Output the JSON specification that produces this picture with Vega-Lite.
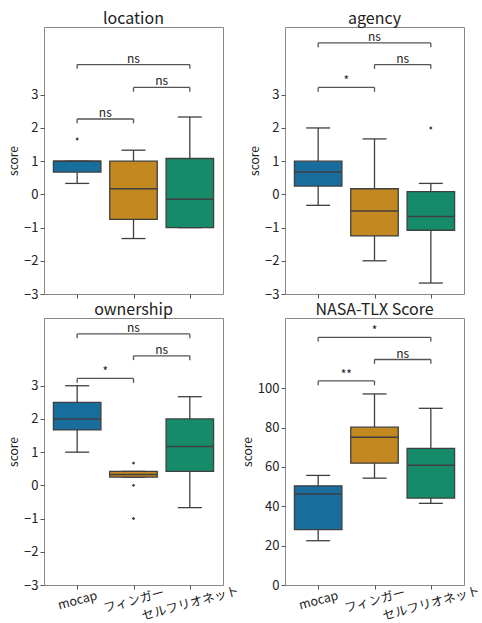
{
  "$schema": "https://vega.github.io/schema/vega-lite/v6.json",
  "padding": {"left": 7, "top": 10, "right": 4, "bottom": 4},
  "bounds": "flush",
  "columns": 2,
  "spacing": {"row": 24, "column": 62},
  "config": {
    "font": "Noto Sans CJK JP",
    "view": {"stroke": "#888888", "strokeWidth": 1},
    "axis": {"labelFontSize": 13, "titleFontSize": 12, "labelColor": "#222222", "titleColor": "#222222", "tickColor": "#555555", "tickSize": 4, "grid": false, "domain": false, "labelPadding": 2, "titleFontWeight": "normal", "titlePadding": 3, "labelOverlap": false, "labelFlush": false},
    "title": {"fontSize": 16, "fontWeight": "normal", "offset": 0.5, "color": "#222222"}
  },
  "datasets": {
    "boxes": [
      {"metric": "location", "group": "mocap", "pos": 0, "lo": 0.33, "q1": 0.67, "median": 1.0, "q3": 1.0, "hi": 1.0},
      {"metric": "location", "group": "フィンガー", "pos": 1, "lo": -1.33, "q1": -0.75, "median": 0.17, "q3": 1.0, "hi": 1.33},
      {"metric": "location", "group": "セルフリオネット", "pos": 2, "lo": -1.0, "q1": -1.0, "median": -0.15, "q3": 1.08, "hi": 2.33},
      {"metric": "agency", "group": "mocap", "pos": 0, "lo": -0.33, "q1": 0.25, "median": 0.67, "q3": 1.0, "hi": 2.0},
      {"metric": "agency", "group": "フィンガー", "pos": 1, "lo": -2.0, "q1": -1.25, "median": -0.5, "q3": 0.17, "hi": 1.67},
      {"metric": "agency", "group": "セルフリオネット", "pos": 2, "lo": -2.67, "q1": -1.08, "median": -0.67, "q3": 0.08, "hi": 0.33},
      {"metric": "ownership", "group": "mocap", "pos": 0, "lo": 1.0, "q1": 1.67, "median": 2.0, "q3": 2.5, "hi": 3.0},
      {"metric": "ownership", "group": "フィンガー", "pos": 1, "lo": 0.25, "q1": 0.25, "median": 0.33, "q3": 0.42, "hi": 0.42},
      {"metric": "ownership", "group": "セルフリオネット", "pos": 2, "lo": -0.67, "q1": 0.42, "median": 1.17, "q3": 2.0, "hi": 2.67},
      {"metric": "NASA-TLX Score", "group": "mocap", "pos": 0, "lo": 22.5, "q1": 28.1, "median": 46.2, "q3": 50.4, "hi": 55.7},
      {"metric": "NASA-TLX Score", "group": "フィンガー", "pos": 1, "lo": 54.3, "q1": 61.9, "median": 75.1, "q3": 80.2, "hi": 97.1},
      {"metric": "NASA-TLX Score", "group": "セルフリオネット", "pos": 2, "lo": 41.5, "q1": 44.2, "median": 60.9, "q3": 69.4, "hi": 89.8}
    ],
    "outliers": [
      {"metric": "location", "group": "mocap", "pos": 0, "value": 1.67},
      {"metric": "agency", "group": "セルフリオネット", "pos": 2, "value": 2.0},
      {"metric": "ownership", "group": "フィンガー", "pos": 1, "value": 0.67},
      {"metric": "ownership", "group": "フィンガー", "pos": 1, "value": 0.0},
      {"metric": "ownership", "group": "フィンガー", "pos": 1, "value": -1.0}
    ],
    "brackets": [
      {"metric": "location", "pos1": 0, "pos2": 1, "mid": 0.5, "y": 2.27, "yleg": 2.14, "label": "ns"},
      {"metric": "location", "pos1": 1, "pos2": 2, "mid": 1.5, "y": 3.22, "yleg": 3.09, "label": "ns"},
      {"metric": "location", "pos1": 0, "pos2": 2, "mid": 1.0, "y": 3.91, "yleg": 3.78, "label": "ns"},
      {"metric": "agency", "pos1": 0, "pos2": 1, "mid": 0.5, "y": 3.22, "yleg": 3.09, "label": "*"},
      {"metric": "agency", "pos1": 1, "pos2": 2, "mid": 1.5, "y": 3.91, "yleg": 3.78, "label": "ns"},
      {"metric": "agency", "pos1": 0, "pos2": 2, "mid": 1.0, "y": 4.56, "yleg": 4.43, "label": "ns"},
      {"metric": "ownership", "pos1": 0, "pos2": 1, "mid": 0.5, "y": 3.22, "yleg": 3.09, "label": "*"},
      {"metric": "ownership", "pos1": 1, "pos2": 2, "mid": 1.5, "y": 3.9, "yleg": 3.77, "label": "ns"},
      {"metric": "ownership", "pos1": 0, "pos2": 2, "mid": 1.0, "y": 4.56, "yleg": 4.43, "label": "ns"},
      {"metric": "NASA-TLX Score", "pos1": 0, "pos2": 1, "mid": 0.5, "y": 103.7, "yleg": 101.5, "label": "**"},
      {"metric": "NASA-TLX Score", "pos1": 1, "pos2": 2, "mid": 1.5, "y": 114.6, "yleg": 112.4, "label": "ns"},
      {"metric": "NASA-TLX Score", "pos1": 0, "pos2": 2, "mid": 1.0, "y": 125.9, "yleg": 123.7, "label": "*"}
    ]
  },
  "concat": [
    {
      "width": 179, "height": 267, "title": "location",
      "data": {"name": "boxes"},
      "transform": [{"filter": {"field": "metric", "equal": "location"}}],
      "layer": [
        {"mark": {"type": "rule", "color": "#3f3f3f", "strokeWidth": 1.3},
         "encoding": {
           "x": {"field": "pos", "type": "quantitative", "title": null, "scale": {"domain": [-0.5, 2.5], "nice": false, "zero": false}, "axis": {"values": [0, 1, 2], "labels": false}},
           "y": {"field": "lo", "type": "quantitative", "title": "score", "scale": {"domain": [-3, 5.04], "nice": false, "zero": false}, "axis": {"values": [-3, -2, -1, 0, 1, 2, 3]}},
           "y2": {"field": "q1"}}},
        {"mark": {"type": "rule", "color": "#3f3f3f", "strokeWidth": 1.3},
         "encoding": {
           "x": {"field": "pos", "type": "quantitative", "title": null, "scale": {"domain": [-0.5, 2.5], "nice": false, "zero": false}},
           "y": {"field": "q3", "type": "quantitative", "title": "score", "scale": {"domain": [-3, 5.04], "nice": false, "zero": false}},
           "y2": {"field": "hi"}}},
        {"mark": {"type": "tick", "orient": "horizontal", "size": 24, "thickness": 1.3, "color": "#3f3f3f", "opacity": 1},
         "encoding": {
           "x": {"field": "pos", "type": "quantitative", "title": null, "scale": {"domain": [-0.5, 2.5], "nice": false, "zero": false}},
           "y": {"field": "lo", "type": "quantitative", "title": "score", "scale": {"domain": [-3, 5.04], "nice": false, "zero": false}}}},
        {"mark": {"type": "tick", "orient": "horizontal", "size": 24, "thickness": 1.3, "color": "#3f3f3f", "opacity": 1},
         "encoding": {
           "x": {"field": "pos", "type": "quantitative", "title": null, "scale": {"domain": [-0.5, 2.5], "nice": false, "zero": false}},
           "y": {"field": "hi", "type": "quantitative", "title": "score", "scale": {"domain": [-3, 5.04], "nice": false, "zero": false}}}},
        {"mark": {"type": "bar", "orient": "vertical", "width": 47.5, "stroke": "#3f3f3f", "strokeWidth": 1.3},
         "encoding": {
           "x": {"field": "pos", "type": "quantitative", "title": null, "scale": {"domain": [-0.5, 2.5], "nice": false, "zero": false}},
           "y": {"field": "q1", "type": "quantitative", "title": "score", "scale": {"domain": [-3, 5.04], "nice": false, "zero": false}},
           "y2": {"field": "q3"},
           "color": {"field": "group", "type": "nominal", "scale": {"domain": ["mocap", "フィンガー", "セルフリオネット"], "range": ["#176d9c", "#c38820", "#168b6a"]}, "legend": null}}},
        {"mark": {"type": "tick", "orient": "horizontal", "size": 47.5, "thickness": 1.5, "color": "#3f3f3f", "opacity": 1},
         "encoding": {
           "x": {"field": "pos", "type": "quantitative", "title": null, "scale": {"domain": [-0.5, 2.5], "nice": false, "zero": false}},
           "y": {"field": "median", "type": "quantitative", "title": "score", "scale": {"domain": [-3, 5.04], "nice": false, "zero": false}}}},
        {"data": {"name": "outliers"}, "transform": [{"filter": {"field": "metric", "equal": "location"}}],
         "mark": {"type": "point", "shape": "diamond", "filled": true, "size": 12, "color": "#3f3f3f", "opacity": 1},
         "encoding": {
           "x": {"field": "pos", "type": "quantitative", "title": null, "scale": {"domain": [-0.5, 2.5], "nice": false, "zero": false}},
           "y": {"field": "value", "type": "quantitative", "title": "score", "scale": {"domain": [-3, 5.04], "nice": false, "zero": false}}}},
        {"data": {"name": "brackets"}, "transform": [{"filter": {"field": "metric", "equal": "location"}}],
         "mark": {"type": "rule", "color": "#555555", "strokeWidth": 1.3},
         "encoding": {
           "x": {"field": "pos1", "type": "quantitative", "title": null, "scale": {"domain": [-0.5, 2.5], "nice": false, "zero": false}},
           "x2": {"field": "pos2"},
           "y": {"field": "y", "type": "quantitative", "title": "score", "scale": {"domain": [-3, 5.04], "nice": false, "zero": false}}}},
        {"data": {"name": "brackets"}, "transform": [{"filter": {"field": "metric", "equal": "location"}}],
         "mark": {"type": "rule", "color": "#555555", "strokeWidth": 1.3},
         "encoding": {
           "x": {"field": "pos1", "type": "quantitative", "title": null, "scale": {"domain": [-0.5, 2.5], "nice": false, "zero": false}},
           "y": {"field": "y", "type": "quantitative", "title": "score", "scale": {"domain": [-3, 5.04], "nice": false, "zero": false}},
           "y2": {"field": "yleg"}}},
        {"data": {"name": "brackets"}, "transform": [{"filter": {"field": "metric", "equal": "location"}}],
         "mark": {"type": "rule", "color": "#555555", "strokeWidth": 1.3},
         "encoding": {
           "x": {"field": "pos2", "type": "quantitative", "title": null, "scale": {"domain": [-0.5, 2.5], "nice": false, "zero": false}},
           "y": {"field": "y", "type": "quantitative", "title": "score", "scale": {"domain": [-3, 5.04], "nice": false, "zero": false}},
           "y2": {"field": "yleg"}}},
        {"data": {"name": "brackets"}, "transform": [{"filter": {"field": "metric", "equal": "location"}}],
         "mark": {"type": "text", "baseline": "alphabetic", "dy": -2, "fontSize": 12, "color": "#222222"},
         "encoding": {
           "x": {"field": "mid", "type": "quantitative", "title": null, "scale": {"domain": [-0.5, 2.5], "nice": false, "zero": false}},
           "y": {"field": "y", "type": "quantitative", "title": "score", "scale": {"domain": [-3, 5.04], "nice": false, "zero": false}},
           "text": {"field": "label"}}}
      ]
    },
    {
      "width": 179, "height": 267, "title": "agency",
      "data": {"name": "boxes"},
      "transform": [{"filter": {"field": "metric", "equal": "agency"}}],
      "layer": [
        {"mark": {"type": "rule", "color": "#3f3f3f", "strokeWidth": 1.3},
         "encoding": {
           "x": {"field": "pos", "type": "quantitative", "title": null, "scale": {"domain": [-0.5, 2.5], "nice": false, "zero": false}, "axis": {"values": [0, 1, 2], "labels": false}},
           "y": {"field": "lo", "type": "quantitative", "title": "score", "scale": {"domain": [-3, 5.04], "nice": false, "zero": false}, "axis": {"values": [-3, -2, -1, 0, 1, 2, 3]}},
           "y2": {"field": "q1"}}},
        {"mark": {"type": "rule", "color": "#3f3f3f", "strokeWidth": 1.3},
         "encoding": {
           "x": {"field": "pos", "type": "quantitative", "title": null, "scale": {"domain": [-0.5, 2.5], "nice": false, "zero": false}},
           "y": {"field": "q3", "type": "quantitative", "title": "score", "scale": {"domain": [-3, 5.04], "nice": false, "zero": false}},
           "y2": {"field": "hi"}}},
        {"mark": {"type": "tick", "orient": "horizontal", "size": 24, "thickness": 1.3, "color": "#3f3f3f", "opacity": 1},
         "encoding": {
           "x": {"field": "pos", "type": "quantitative", "title": null, "scale": {"domain": [-0.5, 2.5], "nice": false, "zero": false}},
           "y": {"field": "lo", "type": "quantitative", "title": "score", "scale": {"domain": [-3, 5.04], "nice": false, "zero": false}}}},
        {"mark": {"type": "tick", "orient": "horizontal", "size": 24, "thickness": 1.3, "color": "#3f3f3f", "opacity": 1},
         "encoding": {
           "x": {"field": "pos", "type": "quantitative", "title": null, "scale": {"domain": [-0.5, 2.5], "nice": false, "zero": false}},
           "y": {"field": "hi", "type": "quantitative", "title": "score", "scale": {"domain": [-3, 5.04], "nice": false, "zero": false}}}},
        {"mark": {"type": "bar", "orient": "vertical", "width": 47.5, "stroke": "#3f3f3f", "strokeWidth": 1.3},
         "encoding": {
           "x": {"field": "pos", "type": "quantitative", "title": null, "scale": {"domain": [-0.5, 2.5], "nice": false, "zero": false}},
           "y": {"field": "q1", "type": "quantitative", "title": "score", "scale": {"domain": [-3, 5.04], "nice": false, "zero": false}},
           "y2": {"field": "q3"},
           "color": {"field": "group", "type": "nominal", "scale": {"domain": ["mocap", "フィンガー", "セルフリオネット"], "range": ["#176d9c", "#c38820", "#168b6a"]}, "legend": null}}},
        {"mark": {"type": "tick", "orient": "horizontal", "size": 47.5, "thickness": 1.5, "color": "#3f3f3f", "opacity": 1},
         "encoding": {
           "x": {"field": "pos", "type": "quantitative", "title": null, "scale": {"domain": [-0.5, 2.5], "nice": false, "zero": false}},
           "y": {"field": "median", "type": "quantitative", "title": "score", "scale": {"domain": [-3, 5.04], "nice": false, "zero": false}}}},
        {"data": {"name": "outliers"}, "transform": [{"filter": {"field": "metric", "equal": "agency"}}],
         "mark": {"type": "point", "shape": "diamond", "filled": true, "size": 12, "color": "#3f3f3f", "opacity": 1},
         "encoding": {
           "x": {"field": "pos", "type": "quantitative", "title": null, "scale": {"domain": [-0.5, 2.5], "nice": false, "zero": false}},
           "y": {"field": "value", "type": "quantitative", "title": "score", "scale": {"domain": [-3, 5.04], "nice": false, "zero": false}}}},
        {"data": {"name": "brackets"}, "transform": [{"filter": {"field": "metric", "equal": "agency"}}],
         "mark": {"type": "rule", "color": "#555555", "strokeWidth": 1.3},
         "encoding": {
           "x": {"field": "pos1", "type": "quantitative", "title": null, "scale": {"domain": [-0.5, 2.5], "nice": false, "zero": false}},
           "x2": {"field": "pos2"},
           "y": {"field": "y", "type": "quantitative", "title": "score", "scale": {"domain": [-3, 5.04], "nice": false, "zero": false}}}},
        {"data": {"name": "brackets"}, "transform": [{"filter": {"field": "metric", "equal": "agency"}}],
         "mark": {"type": "rule", "color": "#555555", "strokeWidth": 1.3},
         "encoding": {
           "x": {"field": "pos1", "type": "quantitative", "title": null, "scale": {"domain": [-0.5, 2.5], "nice": false, "zero": false}},
           "y": {"field": "y", "type": "quantitative", "title": "score", "scale": {"domain": [-3, 5.04], "nice": false, "zero": false}},
           "y2": {"field": "yleg"}}},
        {"data": {"name": "brackets"}, "transform": [{"filter": {"field": "metric", "equal": "agency"}}],
         "mark": {"type": "rule", "color": "#555555", "strokeWidth": 1.3},
         "encoding": {
           "x": {"field": "pos2", "type": "quantitative", "title": null, "scale": {"domain": [-0.5, 2.5], "nice": false, "zero": false}},
           "y": {"field": "y", "type": "quantitative", "title": "score", "scale": {"domain": [-3, 5.04], "nice": false, "zero": false}},
           "y2": {"field": "yleg"}}},
        {"data": {"name": "brackets"}, "transform": [{"filter": {"field": "metric", "equal": "agency"}}],
         "mark": {"type": "text", "baseline": "alphabetic", "dy": -2, "fontSize": 12, "color": "#222222"},
         "encoding": {
           "x": {"field": "mid", "type": "quantitative", "title": null, "scale": {"domain": [-0.5, 2.5], "nice": false, "zero": false}},
           "y": {"field": "y", "type": "quantitative", "title": "score", "scale": {"domain": [-3, 5.04], "nice": false, "zero": false}},
           "text": {"field": "label"}}}
      ]
    },
    {
      "width": 179, "height": 267, "title": "ownership",
      "data": {"name": "boxes"},
      "transform": [{"filter": {"field": "metric", "equal": "ownership"}}],
      "layer": [
        {"mark": {"type": "rule", "color": "#3f3f3f", "strokeWidth": 1.3},
         "encoding": {
           "x": {"field": "pos", "type": "quantitative", "title": null, "scale": {"domain": [-0.5, 2.5], "nice": false, "zero": false}, "axis": {"values": [0, 1, 2], "labelExpr": "datum.value == 0 ? 'mocap' : datum.value == 1 ? 'フィンガー' : 'セルフリオネット'", "labelAngle": -15, "labelAlign": "center", "labelBaseline": "middle", "labelFontSize": 12.5, "labelPadding": {"expr": "datum.value == 2 ? 14 : 11"}}},
           "y": {"field": "lo", "type": "quantitative", "title": "score", "scale": {"domain": [-3, 5.04], "nice": false, "zero": false}, "axis": {"values": [-3, -2, -1, 0, 1, 2, 3]}},
           "y2": {"field": "q1"}}},
        {"mark": {"type": "rule", "color": "#3f3f3f", "strokeWidth": 1.3},
         "encoding": {
           "x": {"field": "pos", "type": "quantitative", "title": null, "scale": {"domain": [-0.5, 2.5], "nice": false, "zero": false}},
           "y": {"field": "q3", "type": "quantitative", "title": "score", "scale": {"domain": [-3, 5.04], "nice": false, "zero": false}},
           "y2": {"field": "hi"}}},
        {"mark": {"type": "tick", "orient": "horizontal", "size": 24, "thickness": 1.3, "color": "#3f3f3f", "opacity": 1},
         "encoding": {
           "x": {"field": "pos", "type": "quantitative", "title": null, "scale": {"domain": [-0.5, 2.5], "nice": false, "zero": false}},
           "y": {"field": "lo", "type": "quantitative", "title": "score", "scale": {"domain": [-3, 5.04], "nice": false, "zero": false}}}},
        {"mark": {"type": "tick", "orient": "horizontal", "size": 24, "thickness": 1.3, "color": "#3f3f3f", "opacity": 1},
         "encoding": {
           "x": {"field": "pos", "type": "quantitative", "title": null, "scale": {"domain": [-0.5, 2.5], "nice": false, "zero": false}},
           "y": {"field": "hi", "type": "quantitative", "title": "score", "scale": {"domain": [-3, 5.04], "nice": false, "zero": false}}}},
        {"mark": {"type": "bar", "orient": "vertical", "width": 47.5, "stroke": "#3f3f3f", "strokeWidth": 1.3},
         "encoding": {
           "x": {"field": "pos", "type": "quantitative", "title": null, "scale": {"domain": [-0.5, 2.5], "nice": false, "zero": false}},
           "y": {"field": "q1", "type": "quantitative", "title": "score", "scale": {"domain": [-3, 5.04], "nice": false, "zero": false}},
           "y2": {"field": "q3"},
           "color": {"field": "group", "type": "nominal", "scale": {"domain": ["mocap", "フィンガー", "セルフリオネット"], "range": ["#176d9c", "#c38820", "#168b6a"]}, "legend": null}}},
        {"mark": {"type": "tick", "orient": "horizontal", "size": 47.5, "thickness": 1.5, "color": "#3f3f3f", "opacity": 1},
         "encoding": {
           "x": {"field": "pos", "type": "quantitative", "title": null, "scale": {"domain": [-0.5, 2.5], "nice": false, "zero": false}},
           "y": {"field": "median", "type": "quantitative", "title": "score", "scale": {"domain": [-3, 5.04], "nice": false, "zero": false}}}},
        {"data": {"name": "outliers"}, "transform": [{"filter": {"field": "metric", "equal": "ownership"}}],
         "mark": {"type": "point", "shape": "diamond", "filled": true, "size": 12, "color": "#3f3f3f", "opacity": 1},
         "encoding": {
           "x": {"field": "pos", "type": "quantitative", "title": null, "scale": {"domain": [-0.5, 2.5], "nice": false, "zero": false}},
           "y": {"field": "value", "type": "quantitative", "title": "score", "scale": {"domain": [-3, 5.04], "nice": false, "zero": false}}}},
        {"data": {"name": "brackets"}, "transform": [{"filter": {"field": "metric", "equal": "ownership"}}],
         "mark": {"type": "rule", "color": "#555555", "strokeWidth": 1.3},
         "encoding": {
           "x": {"field": "pos1", "type": "quantitative", "title": null, "scale": {"domain": [-0.5, 2.5], "nice": false, "zero": false}},
           "x2": {"field": "pos2"},
           "y": {"field": "y", "type": "quantitative", "title": "score", "scale": {"domain": [-3, 5.04], "nice": false, "zero": false}}}},
        {"data": {"name": "brackets"}, "transform": [{"filter": {"field": "metric", "equal": "ownership"}}],
         "mark": {"type": "rule", "color": "#555555", "strokeWidth": 1.3},
         "encoding": {
           "x": {"field": "pos1", "type": "quantitative", "title": null, "scale": {"domain": [-0.5, 2.5], "nice": false, "zero": false}},
           "y": {"field": "y", "type": "quantitative", "title": "score", "scale": {"domain": [-3, 5.04], "nice": false, "zero": false}},
           "y2": {"field": "yleg"}}},
        {"data": {"name": "brackets"}, "transform": [{"filter": {"field": "metric", "equal": "ownership"}}],
         "mark": {"type": "rule", "color": "#555555", "strokeWidth": 1.3},
         "encoding": {
           "x": {"field": "pos2", "type": "quantitative", "title": null, "scale": {"domain": [-0.5, 2.5], "nice": false, "zero": false}},
           "y": {"field": "y", "type": "quantitative", "title": "score", "scale": {"domain": [-3, 5.04], "nice": false, "zero": false}},
           "y2": {"field": "yleg"}}},
        {"data": {"name": "brackets"}, "transform": [{"filter": {"field": "metric", "equal": "ownership"}}],
         "mark": {"type": "text", "baseline": "alphabetic", "dy": -2, "fontSize": 12, "color": "#222222"},
         "encoding": {
           "x": {"field": "mid", "type": "quantitative", "title": null, "scale": {"domain": [-0.5, 2.5], "nice": false, "zero": false}},
           "y": {"field": "y", "type": "quantitative", "title": "score", "scale": {"domain": [-3, 5.04], "nice": false, "zero": false}},
           "text": {"field": "label"}}}
      ]
    },
    {
      "width": 179, "height": 267, "title": "NASA-TLX Score",
      "data": {"name": "boxes"},
      "transform": [{"filter": {"field": "metric", "equal": "NASA-TLX Score"}}],
      "layer": [
        {"mark": {"type": "rule", "color": "#3f3f3f", "strokeWidth": 1.3},
         "encoding": {
           "x": {"field": "pos", "type": "quantitative", "title": null, "scale": {"domain": [-0.5, 2.5], "nice": false, "zero": false}, "axis": {"values": [0, 1, 2], "labelExpr": "datum.value == 0 ? 'mocap' : datum.value == 1 ? 'フィンガー' : 'セルフリオネット'", "labelAngle": -15, "labelAlign": "center", "labelBaseline": "middle", "labelFontSize": 12.5, "labelPadding": {"expr": "datum.value == 2 ? 14 : 11"}}},
           "y": {"field": "lo", "type": "quantitative", "title": "score", "scale": {"domain": [0, 135.7], "nice": false, "zero": false}, "axis": {"values": [0, 20, 40, 60, 80, 100]}},
           "y2": {"field": "q1"}}},
        {"mark": {"type": "rule", "color": "#3f3f3f", "strokeWidth": 1.3},
         "encoding": {
           "x": {"field": "pos", "type": "quantitative", "title": null, "scale": {"domain": [-0.5, 2.5], "nice": false, "zero": false}},
           "y": {"field": "q3", "type": "quantitative", "title": "score", "scale": {"domain": [0, 135.7], "nice": false, "zero": false}},
           "y2": {"field": "hi"}}},
        {"mark": {"type": "tick", "orient": "horizontal", "size": 24, "thickness": 1.3, "color": "#3f3f3f", "opacity": 1},
         "encoding": {
           "x": {"field": "pos", "type": "quantitative", "title": null, "scale": {"domain": [-0.5, 2.5], "nice": false, "zero": false}},
           "y": {"field": "lo", "type": "quantitative", "title": "score", "scale": {"domain": [0, 135.7], "nice": false, "zero": false}}}},
        {"mark": {"type": "tick", "orient": "horizontal", "size": 24, "thickness": 1.3, "color": "#3f3f3f", "opacity": 1},
         "encoding": {
           "x": {"field": "pos", "type": "quantitative", "title": null, "scale": {"domain": [-0.5, 2.5], "nice": false, "zero": false}},
           "y": {"field": "hi", "type": "quantitative", "title": "score", "scale": {"domain": [0, 135.7], "nice": false, "zero": false}}}},
        {"mark": {"type": "bar", "orient": "vertical", "width": 47.5, "stroke": "#3f3f3f", "strokeWidth": 1.3},
         "encoding": {
           "x": {"field": "pos", "type": "quantitative", "title": null, "scale": {"domain": [-0.5, 2.5], "nice": false, "zero": false}},
           "y": {"field": "q1", "type": "quantitative", "title": "score", "scale": {"domain": [0, 135.7], "nice": false, "zero": false}},
           "y2": {"field": "q3"},
           "color": {"field": "group", "type": "nominal", "scale": {"domain": ["mocap", "フィンガー", "セルフリオネット"], "range": ["#176d9c", "#c38820", "#168b6a"]}, "legend": null}}},
        {"mark": {"type": "tick", "orient": "horizontal", "size": 47.5, "thickness": 1.5, "color": "#3f3f3f", "opacity": 1},
         "encoding": {
           "x": {"field": "pos", "type": "quantitative", "title": null, "scale": {"domain": [-0.5, 2.5], "nice": false, "zero": false}},
           "y": {"field": "median", "type": "quantitative", "title": "score", "scale": {"domain": [0, 135.7], "nice": false, "zero": false}}}},
        {"data": {"name": "brackets"}, "transform": [{"filter": {"field": "metric", "equal": "NASA-TLX Score"}}],
         "mark": {"type": "rule", "color": "#555555", "strokeWidth": 1.3},
         "encoding": {
           "x": {"field": "pos1", "type": "quantitative", "title": null, "scale": {"domain": [-0.5, 2.5], "nice": false, "zero": false}},
           "x2": {"field": "pos2"},
           "y": {"field": "y", "type": "quantitative", "title": "score", "scale": {"domain": [0, 135.7], "nice": false, "zero": false}}}},
        {"data": {"name": "brackets"}, "transform": [{"filter": {"field": "metric", "equal": "NASA-TLX Score"}}],
         "mark": {"type": "rule", "color": "#555555", "strokeWidth": 1.3},
         "encoding": {
           "x": {"field": "pos1", "type": "quantitative", "title": null, "scale": {"domain": [-0.5, 2.5], "nice": false, "zero": false}},
           "y": {"field": "y", "type": "quantitative", "title": "score", "scale": {"domain": [0, 135.7], "nice": false, "zero": false}},
           "y2": {"field": "yleg"}}},
        {"data": {"name": "brackets"}, "transform": [{"filter": {"field": "metric", "equal": "NASA-TLX Score"}}],
         "mark": {"type": "rule", "color": "#555555", "strokeWidth": 1.3},
         "encoding": {
           "x": {"field": "pos2", "type": "quantitative", "title": null, "scale": {"domain": [-0.5, 2.5], "nice": false, "zero": false}},
           "y": {"field": "y", "type": "quantitative", "title": "score", "scale": {"domain": [0, 135.7], "nice": false, "zero": false}},
           "y2": {"field": "yleg"}}},
        {"data": {"name": "brackets"}, "transform": [{"filter": {"field": "metric", "equal": "NASA-TLX Score"}}],
         "mark": {"type": "text", "baseline": "alphabetic", "dy": -2, "fontSize": 12, "color": "#222222"},
         "encoding": {
           "x": {"field": "mid", "type": "quantitative", "title": null, "scale": {"domain": [-0.5, 2.5], "nice": false, "zero": false}},
           "y": {"field": "y", "type": "quantitative", "title": "score", "scale": {"domain": [0, 135.7], "nice": false, "zero": false}},
           "text": {"field": "label"}}}
      ]
    }
  ]
}
